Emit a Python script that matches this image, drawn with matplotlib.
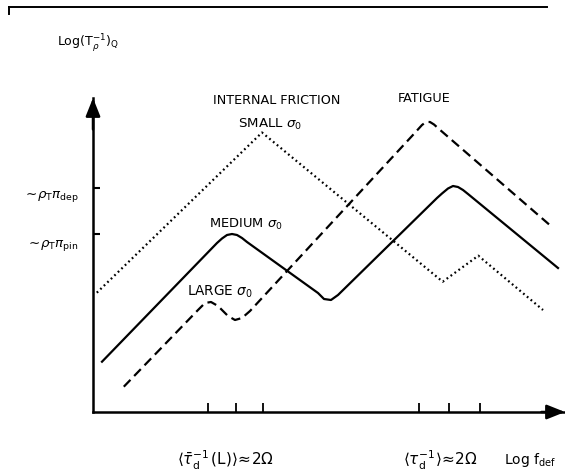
import matplotlib
matplotlib.use("Agg")
import matplotlib.pyplot as plt
from matplotlib.lines import Line2D

plt.rcParams['font.family'] = ['DejaVu Sans']
plt.rcParams['mathtext.fontset'] = 'dejavusans'

# ---- data (arbitrary log units) ----
small_x = [0.38, 16.9, 34.97, 38.53, 45.0]
small_y = [11.93, 27.95, 13.03, 15.63, 10.2]

medium_x = [0.9, 12.4, 12.9, 13.4, 13.9, 14.4, 14.9, 15.4, 22.5, 23.1, 23.8, 24.5,
            34.4, 34.9, 35.5, 36.0, 36.5, 37.0, 37.5, 46.5]
medium_y = [5.03, 16.9, 17.35, 17.7, 17.8, 17.7, 17.4, 17.0, 11.9, 11.3, 11.2, 11.7,
            21.4, 21.85, 22.35, 22.6, 22.5, 22.2, 21.8, 14.4]

large_x = [3.08, 10.5, 11.2, 11.8, 12.5, 13.5, 14.2, 14.9, 15.7,
           31.9, 32.4, 32.9, 33.3, 33.7, 34.1, 34.6, 45.87]
large_y = [2.53, 10.2, 10.9, 11.0, 10.6, 9.6, 9.2, 9.4, 10.1,
           27.6, 28.15, 28.7, 29.0, 29.0, 28.75, 28.3, 18.53]

x_ticks = [11.47, 14.3, 17.03, 32.57, 35.57, 38.67]
y_ticks = [17.8, 22.4]
y_tick_labels = [r"$\sim\!\rho_{\mathrm{T}}\pi_{\mathrm{pin}}$", r"$\sim\!\rho_{\mathrm{T}}\pi_{\mathrm{dep}}$"]

W, H = 565, 474
fig = plt.figure(figsize=(W / 100, H / 100), dpi=100)
fig.patch.set_facecolor('white')
ax = fig.add_axes([93 / W, 1 - 412 / H, (W - 93) / W, (412 - 98) / H])
ax.set_xlim(0, 47.2)
ax.set_ylim(0, 31.4)
ax.set_facecolor('none')
for s in ['top', 'right']:
    ax.spines[s].set_visible(False)
for s in ['left', 'bottom']:
    ax.spines[s].set_linewidth(1.8)
ax.set_xticks(x_ticks, labels=[''] * len(x_ticks))
ax.set_yticks(y_ticks, labels=[''] * len(y_ticks))
ax.tick_params(axis='x', direction='in', length=6.5, width=1.3)
ax.tick_params(axis='y', direction='in', length=5, width=1.5)

# arrow heads
arrow = dict(arrowstyle='-|>,head_length=0.55,head_width=0.22', color='black', lw=1.8,
             mutation_scale=20, shrinkA=0, shrinkB=0)
ax.annotate('', xy=(0, 1), xytext=(0, 0.9), xycoords='axes fraction', arrowprops=arrow)
ax.annotate('', xy=(1, 0), xytext=(0.95, 0), xycoords='axes fraction', arrowprops=arrow)

# curves
ax.plot(small_x, small_y, color='black', lw=1.6, linestyle=(0, (0.8, 1.4)), clip_on=False)
ax.plot(medium_x, medium_y, color='black', lw=1.6, solid_joinstyle='round', clip_on=False)
ax.plot(large_x, large_y, color='black', lw=1.6, linestyle=(0, (4.3, 2.4)),
        dash_joinstyle='round', clip_on=False)

ax.text(-3.6, 36.9, r"Log$(\mathrm{T}_{\rho}^{-1})_{\mathrm{Q}}$", fontsize=9, va='center', ha='left')
ax.text(12.0, 31.2, "INTERNAL FRICTION", fontsize=9.2, va='center', ha='left')
ax.text(30.5, 31.3, "FATIGUE", fontsize=9.2, va='center', ha='left')
ax.text(14.5, 28.8, r"SMALL $\sigma_0$", fontsize=9.6, va='center', ha='left')
ax.text(11.6, 18.8, r"MEDIUM $\sigma_0$", fontsize=9.4, va='center', ha='left')
ax.text(9.4, 12.0, r"LARGE $\sigma_0$", fontsize=9.8, va='center', ha='left')
ax.text(-1.4, 16.7, y_tick_labels[0], fontsize=9.6, va='center', ha='right')
ax.text(-1.4, 21.5, y_tick_labels[1], fontsize=9.6, va='center', ha='right')
ax.text(13.2, -4.8, r"$\langle\bar{\tau}_{\mathrm{d}}^{-1}\,(\mathrm{L})\rangle\!\approx\!2\Omega$",
        fontsize=11, va='center', ha='center')
ax.text(34.7, -4.8, r"$\langle\tau_{\mathrm{d}}^{-1}\rangle\!\approx\!2\Omega$",
        fontsize=11, va='center', ha='center')
ax.text(41.1, -4.8, r"Log f$_{\mathrm{def}}$", fontsize=10, va='center', ha='left')

# top frame remnant
fig.add_artist(Line2D([9 / W, 547 / W], [1 - 7 / H, 1 - 7 / H], color='black', lw=1.4))
fig.add_artist(Line2D([9 / W, 9 / W], [1 - 7 / H, 1 - 14 / H], color='black', lw=1.4))

fig.savefig("out.png", dpi=100)
